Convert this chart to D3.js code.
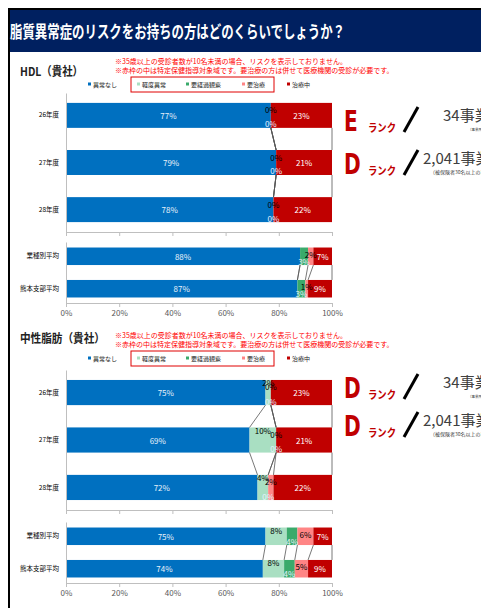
<html>
<head>
<meta charset="utf-8">
<title>脂質異常症のリスク</title>
<style>
body { margin:0; background:#fff; }
.chart text { font-family: "Noto Sans CJK JP", "Noto Sans", sans-serif; }
</style>
</head>
<body>
<svg class="chart"></svg>
<script src="https://d3js.org/d3.v7.min.js"></script>
<script>
var seriesNames = ['異常なし', '軽度異常', '要経過観察', '要治療', '治療中'];
var seriesColors = ['#0070c0', '#a9dfc2', '#3aaa6b', '#ff8585', '#c00000'];
var yearLabels = ['26年度', '27年度', '28年度'];
var avgLabels = ['業種別平均', '熊本支部平均'];
var tickValues = [0, 20, 40, 60, 80, 100];

// percent per series, one row per category
var hdlYears = [[77, 0, 0, 0, 23], [79, 0, 0, 0, 21], [78, 0, 0, 0, 22]];
var hdlAvg = [[88, 0, 3, 2, 7], [87, 0, 3, 1, 9]];
var tgYears = [[75, 2, 0, 0, 23], [69, 10, 0, 0, 21], [72, 4, 0, 2, 22]];
var tgAvg = [[75, 8, 4, 6, 7], [74, 8, 4, 5, 9]];

var hdlRanks = ['E', 'D'];
var tgRanks = ['D', 'D'];
var rankBase = ['34事業所中', '2,041事業所中'];
var rankNote = ['（事業所数）', '（被保険者30名以上の事業所）'];

var pageTitle = '脂質異常症のリスクをお持ちの方はどのくらいでしょうか？';
var note1 = '※35歳以上の受診者数が10名未満の場合、リスクを表示しておりません。';
var note2 = '※赤枠の中は特定保健指導対象域です。要治療の方は併せて医療機関の受診が必要です。';

var svg = d3.select('.chart')
    .attr('width', 481)
    .attr('height', 608);

// header band + frame
svg.append('rect').attr('x', 8).attr('y', 9).attr('width', 473).attr('height', 43).attr('fill', '#002060');
svg.append('line').attr('x1', 8).attr('x2', 481).attr('y1', 9).attr('y2', 9).attr('stroke', '#000').attr('stroke-width', 2);
svg.append('line').attr('x1', 9).attr('x2', 9).attr('y1', 9).attr('y2', 608).attr('stroke', '#000').attr('stroke-width', 2);
svg.append('text')
    .attr('x', 10).attr('y', 38)
    .attr('fill', '#fff')
    .attr('font-size', 17)
    .attr('font-weight', 'bold')
    .attr('textLength', 335)
    .attr('lengthAdjust', 'spacingAndGlyphs')
    .text(pageTitle);

var x = d3.scaleLinear().domain([0, 100]).range([66, 332]);

function stackRows(cats, rows) {
    var table = rows.map(function(r, i) {
        var o = { cat: cats[i] };
        seriesNames.forEach(function(s, j) { o[s] = r[j]; });
        return o;
    });
    return d3.stack().keys(seriesNames)(table);
}

// zeroSeries: which series still get a "0%" label when empty
function drawPanel(cats, rows, r0, r1, pIn, pOut, showTickText, zeroSeries) {
    var y = d3.scaleBand().domain(cats).range([r0, r1]).paddingInner(pIn).paddingOuter(pOut);
    var bw = y.bandwidth();
    var layers = stackRows(cats, rows);
    var g = svg.append('g');

    // bars
    g.selectAll('g.layer').data(layers).enter()
        .append('g')
        .attr('fill', function(d, i) { return seriesColors[i]; })
        .selectAll('rect').data(function(d) { return d; }).enter()
        .append('rect')
        .attr('x', function(d) { return x(d[0]); })
        .attr('width', function(d) { return x(d[1]) - x(d[0]); })
        .attr('y', function(d) { return y(d.data.cat); })
        .attr('height', bw);

    // series lines between neighbouring bars
    var links = [];
    layers.forEach(function(layer) {
        for (var i = 0; i < layer.length - 1; i++) {
            links.push({ a: layer[i], b: layer[i + 1] });
        }
    });
    g.selectAll('line.link').data(links).enter()
        .append('line')
        .attr('x1', function(d) { return x(d.a[1]); })
        .attr('y1', function(d) { return y(d.a.data.cat) + bw; })
        .attr('x2', function(d) { return x(d.b[1]); })
        .attr('y2', function(d) { return y(d.b.data.cat); })
        .attr('stroke', '#555')
        .attr('stroke-width', 0.8);

    // data labels
    var labelColor = ['#e8f0fa', '#000', '#e6f2ff', '#000', '#fff'];
    layers.forEach(function(layer, k) {
        var shown = layer.filter(function(d) {
            return d[1] - d[0] > 0 || zeroSeries.indexOf(k) >= 0;
        });
        g.selectAll(null).data(shown).enter()
            .append('text')
            .attr('x', function(d) { return x((d[0] + d[1]) / 2); })
            .attr('y', function(d) {
                var top = y(d.data.cat);
                if (k === 1) return top + 3;
                if (k === 3) return top + 7;
                if (k === 2) return top + bw - 4;
                return top + bw / 2;
            })
            .attr('dominant-baseline', 'central')
            .attr('text-anchor', 'middle')
            .attr('font-size', 8)
            .attr('fill', labelColor[k])
            .text(function(d) { return (d[1] - d[0]) + '%'; });
    });

    // axes
    var yAxis = g.append('g')
        .attr('transform', 'translate(66,0)')
        .call(d3.axisLeft(y).tickSize(0).tickPadding(7));
    yAxis.select('.domain').attr('stroke', '#bfbfbf');
    yAxis.selectAll('text').attr('font-size', 6.5).attr('fill', '#000');

    var xAxis = g.append('g')
        .attr('transform', 'translate(0,' + r1 + ')')
        .call(d3.axisBottom(x).tickValues(tickValues).tickSize(4).tickSizeOuter(0)
            .tickFormat(function(d) { return showTickText ? d + '%' : ''; }));
    xAxis.select('.domain').attr('stroke', '#bfbfbf');
    xAxis.selectAll('line').attr('stroke', '#bfbfbf');
    xAxis.selectAll('text').attr('font-size', 8).attr('fill', '#595959');
}

function drawHeading(title, titleLen, titleY, noteY, legendY, boxY) {
    svg.append('text')
        .attr('x', 20).attr('y', titleY)
        .attr('font-size', 12).attr('font-weight', 'bold').attr('fill', '#222')
        .attr('textLength', titleLen).attr('lengthAdjust', 'spacingAndGlyphs')
        .text(title);
    [note1, note2].forEach(function(t, i) {
        svg.append('text')
            .attr('x', 115).attr('y', noteY + i * 9)
            .attr('font-size', 7).attr('fill', '#ff0000')
            .text(t);
    });
    var legendX = [88, 137, 186, 242, 287];
    var lg = svg.append('g').selectAll('g').data(seriesNames).enter()
        .append('g')
        .attr('transform', function(d, i) { return 'translate(' + legendX[i] + ',' + legendY + ')'; });
    lg.append('rect').attr('x', 0).attr('y', -1.5).attr('width', 3).attr('height', 3)
        .attr('fill', function(d, i) { return seriesColors[i]; });
    lg.append('text').attr('x', 5).attr('y', 0)
        .attr('dominant-baseline', 'central')
        .attr('font-size', 6).attr('fill', '#222')
        .text(function(d) { return d; });
    svg.append('rect')
        .attr('x', 131).attr('y', boxY).attr('width', 143).attr('height', 15)
        .attr('fill', 'none').attr('stroke', '#e00000').attr('stroke-width', 1);
}

function drawRanks(ranks, rowY) {
    ranks.forEach(function(r, i) {
        var b = rowY[i];
        // tall narrow rank letter
        svg.append('text')
            .attr('transform', 'translate(344,' + b + ') scale(0.72,1)')
            .style('font-family', '"DejaVu Sans", sans-serif')
            .attr('font-size', 28).attr('font-weight', 'bold').attr('fill', '#c00000')
            .text(r);
        svg.append('text')
            .attr('transform', 'translate(368,' + (b + 1) + ') scale(0.85,1)')
            .attr('font-size', 11).attr('font-weight', 'bold').attr('fill', '#c00000')
            .text('ランク');
        svg.append('line')
            .attr('x1', 404).attr('y1', b + 1)
            .attr('x2', 418).attr('y2', b - 24)
            .attr('stroke', '#000').attr('stroke-width', 3);
        svg.append('text')
            .attr('x', i === 0 ? 443 : 423).attr('y', b - 10)
            .attr('font-size', 15).attr('fill', '#404040')
            .text(rankBase[i]);
        svg.append('text')
            .attr('x', i === 0 ? 468 : 430).attr('y', b)
            .attr('font-size', i === 0 ? 3.5 : 5).attr('fill', '#404040')
            .text(rankNote[i]);
    });
}

// HDL
drawHeading('HDL（貴社）', 63, 76, 64, 84, 77);
drawPanel(yearLabels, hdlYears, 93, 232, 0.47, 0.21, false, [2, 3]);
drawPanel(avgLabels, hdlAvg, 242, 303, 0.46, 0.17, true, []);
drawRanks(hdlRanks, [131, 174]);

// 中性脂肪
drawHeading('中性脂肪（貴社）', 85, 343, 338, 358, 351);
drawPanel(yearLabels, tgYears, 370, 510, 0.47, 0.21, false, [1, 2, 3]);
drawPanel(avgLabels, tgAvg, 522, 583, 0.46, 0.17, true, []);
drawRanks(tgRanks, [398, 436]);
</script>
</body>
</html>
